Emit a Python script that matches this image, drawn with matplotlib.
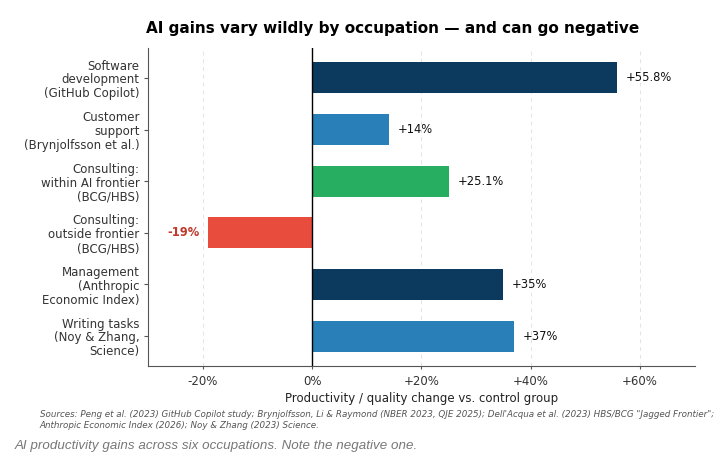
import matplotlib
matplotlib.use("Agg")
import matplotlib.pyplot as plt

categories = [
    "Software\ndevelopment\n(GitHub Copilot)",
    "Customer\nsupport\n(Brynjolfsson et al.)",
    "Consulting:\nwithin AI frontier\n(BCG/HBS)",
    "Consulting:\noutside frontier\n(BCG/HBS)",
    "Management\n(Anthropic\nEconomic Index)",
    "Writing tasks\n(Noy & Zhang,\nScience)",
]
values = [55.8, 14, 25.1, -19, 35, 37]
value_labels = ["+55.8%", "+14%", "+25.1%", "-19%", "+35%", "+37%"]
colors = ["#0b3a5e", "#2980b9", "#27ae60", "#e74c3c", "#0b3a5e", "#2980b9"]
xticks = [-20, 0, 20, 40, 60]
xtick_labels = ["-20%", "0%", "+20%", "+40%", "+60%"]

fig = plt.figure(figsize=(7.2, 4.62), dpi=100)
ax = fig.add_axes([0.2056, 0.2078, 0.7594, 0.6883])

ypos = list(range(len(categories)))
ax.barh(ypos, values, height=0.6, color=colors, zorder=3)
ax.invert_yaxis()
ax.set_yticks(ypos)
ax.set_yticklabels(categories, fontsize=8.5, color="#333333", linespacing=1.08)
ax.set_xlim(-30, 70)
ax.set_xticks(xticks)
ax.set_xticklabels(xtick_labels, fontsize=8.5, color="#333333")
ax.set_xlabel("Productivity / quality change vs. control group", fontsize=8.5, color="#222222", labelpad=3)

ax.axvline(0, color="black", linewidth=1, zorder=4)
for x in [-20, 20, 40, 60]:
    ax.axvline(x, color="#e3e3e3", linewidth=0.7, linestyle=(0, (4, 4)), zorder=1)

for y, v, lab in zip(ypos, values, value_labels):
    if v >= 0:
        ax.text(v + 1.6, y, lab, va="center", ha="left", fontsize=8.3, color="#111111")
    else:
        ax.text(v - 1.6, y, lab, va="center", ha="right", fontsize=8.3, color="#c0392b", fontweight="bold")

for s in ["top", "right"]:
    ax.spines[s].set_visible(False)
ax.spines["left"].set_color("#555555")
ax.spines["bottom"].set_color("#555555")
ax.tick_params(axis="y", length=3, color="#555555", pad=3)
ax.tick_params(axis="x", length=2.5, color="#555555", pad=4)

fig.text(0.545, 0.939, "AI gains vary wildly by occupation \u2014 and can go negative",
         ha="center", va="center", fontsize=11, fontweight="bold")

fig.text(0.055, 0.091,
         "Sources: Peng et al. (2023) GitHub Copilot study; Brynjolfsson, Li & Raymond (NBER 2023, QJE 2025); Dell'Acqua et al. (2023) HBS/BCG \"Jagged Frontier\";\nAnthropic Economic Index (2026); Noy & Zhang (2023) Science.",
         ha="left", va="center", fontsize=6.3, style="italic", color="#555555", linespacing=1.2)

fig.text(0.02, 0.035, "AI productivity gains across six occupations. Note the negative one.",
         ha="left", va="center", fontsize=9.6, style="italic", color="#777777", family="Liberation Sans")

fig.savefig("out.png", dpi=100)
